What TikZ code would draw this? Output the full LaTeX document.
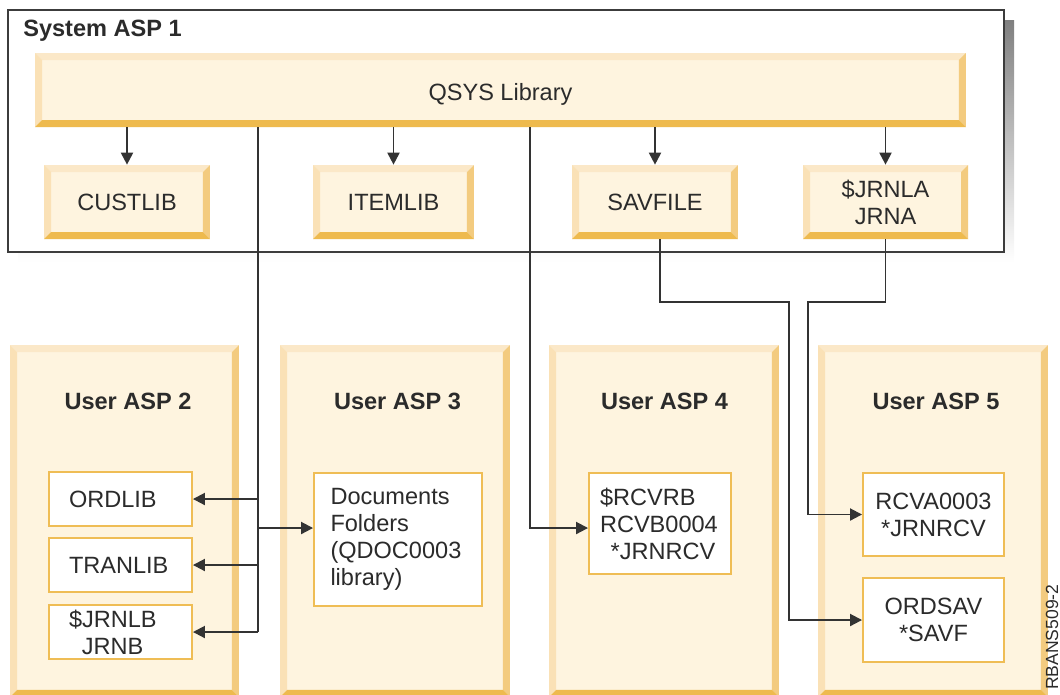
\documentclass[tikz,border=0pt]{standalone}
\usepackage{fontspec}
\setmainfont{Liberation Sans}
\usepackage{tikz}
\usetikzlibrary{positioning}
\usetikzlibrary{arrows.meta}
\usetikzlibrary{calc}
\usepackage{xcolor}
\definecolor{ink}{HTML}{2B2B2B}
\definecolor{wire}{HTML}{333333}
\definecolor{frame}{HTML}{3C3C3C}
\definecolor{shade}{HTML}{DCDDDF}
\definecolor{bevfill}{HTML}{FEF4DF}
\definecolor{bevtop}{HTML}{FBE8C8}
\definecolor{bevleft}{HTML}{FAE1B6}
\definecolor{bevright}{HTML}{F3CB7F}
\definecolor{bevbot}{HTML}{EEBA4E}
\definecolor{libedge}{HTML}{EFBD55}

\newcommand{\bevw}{0.14cm}
\newcommand{\bevelpaint}{%
  \fill[bevtop] (path picture bounding box.north west) -- (path picture bounding box.north east)
    -- ([shift={(-\bevw,-\bevw)}]path picture bounding box.north east)
    -- ([shift={(\bevw,-\bevw)}]path picture bounding box.north west) -- cycle;
  \fill[bevleft] (path picture bounding box.north west) -- ([shift={(\bevw,-\bevw)}]path picture bounding box.north west)
    -- ([shift={(\bevw,\bevw)}]path picture bounding box.south west)
    -- (path picture bounding box.south west) -- cycle;
  \fill[bevright] (path picture bounding box.north east) -- (path picture bounding box.south east)
    -- ([shift={(-\bevw,\bevw)}]path picture bounding box.south east)
    -- ([shift={(-\bevw,-\bevw)}]path picture bounding box.north east) -- cycle;
  \fill[bevbot] (path picture bounding box.south west) -- (path picture bounding box.south east)
    -- ([shift={(-\bevw,\bevw)}]path picture bounding box.south east)
    -- ([shift={(\bevw,\bevw)}]path picture bounding box.south west) -- cycle;
}

\begin{document}
\begin{tikzpicture}[
  x=0.02cm, y=-0.02cm,
  font=\fontsize{13.4}{15.4}\selectfont,
  every node/.style={text=ink},
  bevel/.style={fill=bevfill, inner sep=0pt, align=center, path picture={\bevelpaint}},
  libbox/.style={draw=libedge, line width=1.1pt, fill=white, inner xsep=0.4cm, inner ysep=0pt, align=left},
  title/.style={font=\fontsize{13.4}{15.4}\selectfont\bfseries, inner sep=0pt},
  wireline/.style={draw=wire, line width=1.1pt},
  arr/.style={wireline, -{Triangle[length=0.24cm, width=0.24cm]}}
]
\useasboundingbox (0,0) rectangle (1060,694);

% system ASP frame
\fill[shade] (18,20) rectangle (1014,262);
\node[draw=frame, fill=white, line width=1.1pt, minimum width=19.92cm, minimum height=4.84cm] (sysasp) at (506,131) {};
\node[title, anchor=west] (systitle) at (23,31) {System ASP 1};

% libraries in ASP 1
\node[bevel, minimum width=18.62cm, minimum height=1.48cm] (qsys) at (500.5,90) {\raisebox{-0.08cm}[\height][\depth]{QSYS Library}};
\node[bevel, minimum width=3.32cm, minimum height=1.48cm] (custlib) at (127,202) {CUSTLIB};
\node[bevel, minimum width=3.22cm, minimum height=1.48cm] (itemlib) at (393.5,202) {ITEMLIB};
\node[bevel, minimum width=3.32cm, minimum height=1.48cm] (savfile) at (655,202) {SAVFILE};
\node[bevel, minimum width=3.30cm, minimum height=1.48cm] (jrnla) at (885.5,202) {\$JRNLA\\JRNA};

% user ASPs
\node[bevel, minimum width=4.58cm, minimum height=7.04cm] (asp2) at (124.5,521) {};
\node[bevel, minimum width=4.60cm, minimum height=7.04cm] (asp3) at (395,521) {};
\node[bevel, minimum width=4.60cm, minimum height=7.04cm] (asp4) at (664,521) {};
\node[bevel, minimum width=4.60cm, minimum height=7.04cm] (asp5) at (933,521) {};
\node[title] (asp2title) at (128,401) {User ASP 2};
\node[title] (asp3title) at (397.5,401) {User ASP 3};
\node[title] (asp4title) at (664.5,401) {User ASP 4};
\node[title] (asp5title) at (936,401) {User ASP 5};

% objects in user ASPs
\node[libbox, text width=2.06cm, minimum height=1.08cm] (ordlib) at (120.5,499) {ORDLIB};
\node[libbox, text width=2.06cm, minimum height=1.08cm] (tranlib) at (120.5,565) {TRANLIB};
\node[libbox, text width=2.06cm, minimum height=1.08cm] (jrnlb) at (120.5,632) {\$JRNLB\\\hspace*{0.55em}JRNB};
\node[libbox, inner xsep=0.33cm, text width=2.7cm, minimum height=2.66cm] (docs) at (398,539.5) {Documents\\Folders\\(QDOC0003\\library)};
\node[libbox, inner xsep=0.22cm, text width=2.4cm, minimum height=2.02cm] (rcvrb) at (660,523.5) {\$RCVRB\\RCVB0004\\\hspace*{0.45em}*JRNRCV};
\node[libbox, inner xsep=0.1cm, align=center, minimum width=2.82cm, minimum height=1.66cm] (rcva) at (933.5,514.5) {RCVA0003\\*JRNRCV};
\node[libbox, inner xsep=0.1cm, align=center, minimum width=2.82cm, minimum height=1.68cm] (ordsav) at (933.5,620) {ORDSAV\\*SAVF};

\node[rotate=90, anchor=west, inner sep=1pt, font=\fontsize{10}{12}\selectfont] (figcode) at (1052,692) {RBANS509-2};

% connectors inside ASP 1
\draw[arr] (custlib |- qsys.south) -- (custlib);
\draw[arr] (itemlib |- qsys.south) -- (itemlib);
\draw[arr] (savfile |- qsys.south) -- (savfile);
\draw[arr] (jrnla |- qsys.south) -- (jrnla);

% connectors to user ASPs
\coordinate (busL) at (258,0 |- qsys.south);
\coordinate (busR) at (530,0 |- qsys.south);
\coordinate (bendS) at (789,302);
\coordinate (bendJ) at (808,302);
\draw[wireline] (busL) -- (busL |- jrnlb.east);
\draw[arr] (busL |- ordlib.east) -- (ordlib);
\draw[arr] (busL |- tranlib.east) -- (tranlib);
\draw[arr] (busL |- jrnlb.east) -- (jrnlb);
\draw[arr] (busL |- 0,528) -- (docs.west |- 0,528);
\draw[arr] (busR) |- (rcvrb.west |- 0,528);
\draw[arr] ([xshift=0.1cm]savfile.south) |- (bendS) |- (ordsav.west);
\draw[arr] (jrnla.south) |- (bendJ) |- (rcva.west);
\end{tikzpicture}
\end{document}
